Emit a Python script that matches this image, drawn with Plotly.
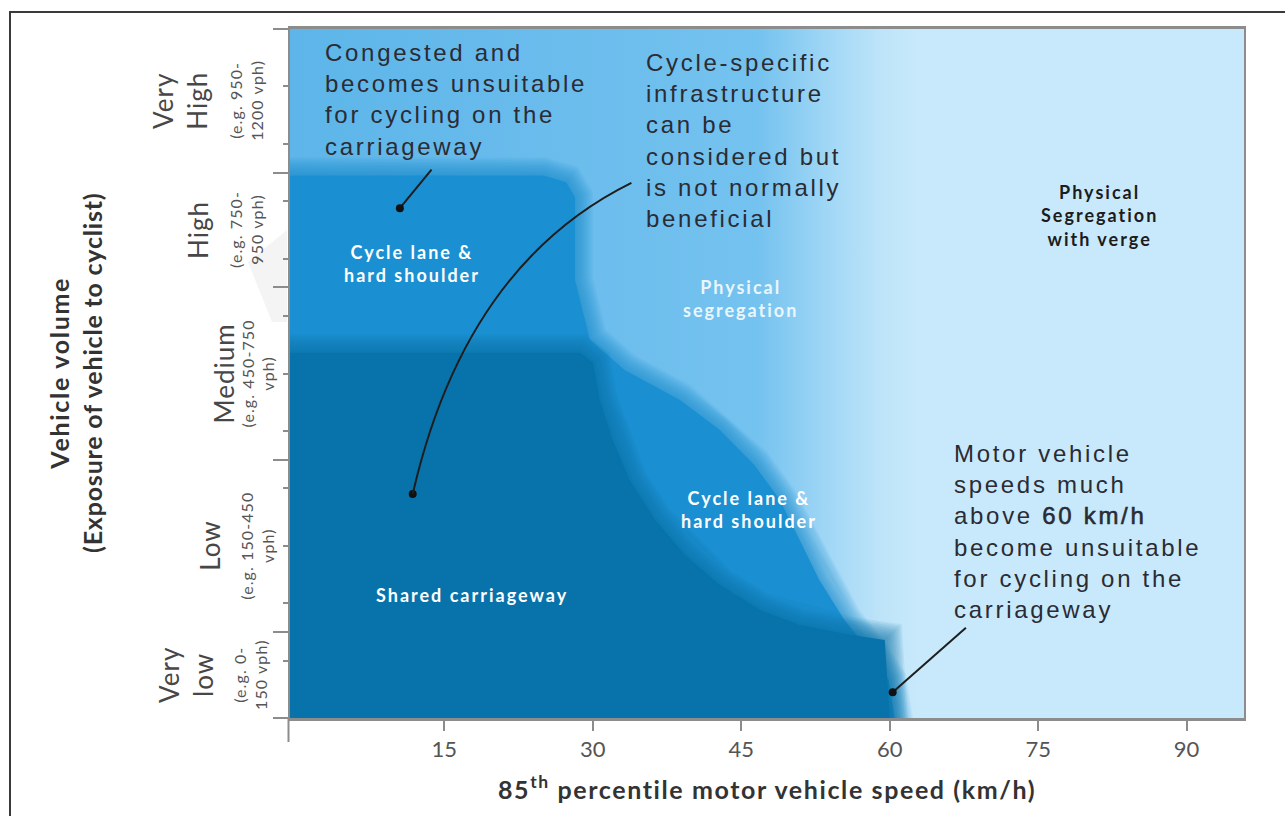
import plotly.graph_objects as go

# ---------------- data ----------------
SPEED_RANGE = [-0.6, 95.8]          # km/h (85th percentile speed)
VOLUME_RANGE = [0, 1200]            # vehicles per hour
speed_ticks = [15, 30, 45, 60, 75, 90]
volume_bounds = [0, 150, 450, 750, 950, 1200]
volume_minor = [100, 200, 300, 400, 500, 600, 700, 800, 900, 1000, 1100]
band_names = ["Very<br>low", "Low", "Medium", "High", "Very<br>High"]
band_examples = ["(e.g. 0-<br>150 vph)", "(e.g. 150-450<br>vph)", "(e.g. 450-750<br>vph)",
                 "(e.g. 750-<br>950 vph)", "(e.g. 950-<br>1200 vph)"]

# zone outline: cycle lane & hard shoulder (speed, volume)
lane_speed = [-0.6, -0.6, 25.0, 27.3, 28.2, 28.2, 29.7, 33.2, 38.8, 42.8, 46.3, 48.9, 50.9,
              52.9, 55.4, 57.9, 59.9, 60.5]
lane_volume = [0, 945, 945, 933, 907, 763, 659, 606, 554, 502, 441, 380, 310,
               240, 171, 118, 66, 0]
# zone outline: shared carriageway
shared_speed = [-0.6, -0.6, 28.7, 30.0, 30.7, 32.0, 33.7, 36.3, 39.3, 42.8, 46.9, 50.9,
                56.0, 59.5, 60.0]
shared_volume = [0, 636, 636, 619, 554, 484, 415, 345, 284, 232, 188, 162,
                 145, 136, 0]

# ---------------- styling ----------------
C_DARK = (8, 114, 170)
C_MED = (26, 143, 209)
TXT = "#2b2b33"
GRAY = "#8c8c8c"
LATO = "Lato, Calibri, sans-serif"
PLOT_L, PLOT_W, PLOT_B, PLOT_H = 290, 954, 718, 689

fig = go.Figure()

# background: physical segregation -> physical segregation with verge
fig.add_trace(go.Scatter(
    x=[SPEED_RANGE[0], SPEED_RANGE[1], SPEED_RANGE[1], SPEED_RANGE[0], SPEED_RANGE[0]],
    y=[VOLUME_RANGE[0], VOLUME_RANGE[0], VOLUME_RANGE[1], VOLUME_RANGE[1], VOLUME_RANGE[0]],
    mode="lines", line=dict(width=0), fill="toself",
    fillgradient=dict(type="horizontal", start=0, stop=63,
                      colorscale=[[0, "#5db5e9"], [0.74, "#74c2ef"], [0.86, "#a3d8f6"],
                                  [0.94, "#bee4f9"], [1, "#c8e9fb"]]),
    hoverinfo="skip", showlegend=False))


def add_zone(xs, ys, rgb, widths=range(3, 39, 3), alpha=0.08):
    xc = list(xs) + [xs[0]]
    yc = list(ys) + [ys[0]]
    r, g, b = rgb
    for w in widths:
        fig.add_trace(go.Scatter(x=xc, y=yc, mode="lines",
                                 line=dict(color=f"rgba({r},{g},{b},{alpha})", width=w),
                                 hoverinfo="skip", showlegend=False))
    fig.add_trace(go.Scatter(x=xc, y=yc, mode="lines", line=dict(width=0), fill="toself",
                             fillcolor=f"rgb({r},{g},{b})", hoverinfo="skip", showlegend=False))


add_zone(lane_speed, lane_volume, C_MED)
add_zone(shared_speed, shared_volume, C_DARK)

# pointers
fig.add_trace(go.Scatter(x=[13.7, 10.5], y=[955, 888], mode="lines",
                         line=dict(color="#1d1d1d", width=2), hoverinfo="skip", showlegend=False))
fig.add_trace(go.Scatter(x=[67.7, 60.3], y=[157, 45], mode="lines",
                         line=dict(color="#1d1d1d", width=2), hoverinfo="skip", showlegend=False))
fig.add_shape(type="path", xref="x", yref="y",
              path="M 33.9,932 Q 17.1,789 11.8,390",
              line=dict(color="#1d1d1d", width=2))
fig.add_trace(go.Scatter(x=[10.5, 11.8, 60.3], y=[888, 390, 45], mode="markers",
                         marker=dict(color="#111111", size=8), hoverinfo="skip", showlegend=False))


def spaced(lines, ls):
    return "<br>".join(f"<span style='letter-spacing:{ls}px'>{l}</span>" for l in lines)


note_font = dict(family="Liberation Sans, Arial, sans-serif", size=24, color=TXT)
fig.add_annotation(x=2.7, y=1077, xref="x", yref="y", xanchor="left", yanchor="middle",
                   align="left", showarrow=False, font=note_font,
                   text=spaced(["Congested and", "becomes unsuitable", "for cycling on the",
                                "carriageway"], 2.7))
fig.add_annotation(x=35.2, y=1006, xref="x", yref="y", xanchor="left", yanchor="middle",
                   align="left", showarrow=False, font=note_font,
                   text=spaced(["Cycle-specific", "infrastructure", "can be", "considered but",
                                "is not normally", "beneficial"], 2.7))
fig.add_annotation(x=66.3, y=324, xref="x", yref="y", xanchor="left", yanchor="middle",
                   align="left", showarrow=False, font=note_font,
                   text=spaced(["Motor vehicle", "speeds much",
                                "above <span style='stroke:#2b2b33;stroke-width:0.6px'>60 km/h</span>",
                                "become unsuitable", "for cycling on the", "carriageway"], 2.7))

for x, y, t, col in [
    (11.7, 792, "Cycle lane &<br>hard shoulder", "#ffffff"),
    (44.9, 730, "Physical<br>segregation", "#eaf6fd"),
    (45.8, 364, "Cycle lane &<br>hard shoulder", "#ffffff"),
    (17.8, 214, "Shared carriageway", "#ffffff"),
    (81.2, 876, "Physical<br>Segregation<br>with verge", "#1c1c1c"),
]:
    fig.add_annotation(x=x, y=y, xref="x", yref="y", text=spaced(t.split("<br>"), 2.0),
                       showarrow=False, align="center", xanchor="center", yanchor="middle",
                       font=dict(family=LATO, size=18, color=col, weight="bold"))

# y category labels (rotated): main words and example ranges
main_px = [186, 210, 223, 198, 180]
sub_px = [250, 257, 257, 246, 246]
for i, (nm, ex) in enumerate(zip(band_names, band_examples)):
    ymid = (volume_bounds[i] + volume_bounds[i + 1]) / 2
    fig.add_annotation(x=(main_px[i] - PLOT_L) / PLOT_W, y=ymid, xref="paper", yref="y",
                       text=spaced(nm.split("<br>"), 1.0), textangle=-90, showarrow=False,
                       font=dict(family=LATO, size=26, color="#474747"),
                       align="center", xanchor="center", yanchor="middle")
    fig.add_annotation(x=(sub_px[i] - PLOT_L) / PLOT_W, y=ymid, xref="paper", yref="y",
                       text=spaced(ex.split("<br>"), 1.1), textangle=-90, showarrow=False,
                       font=dict(family=LATO, size=16, color="#555555"),
                       align="center", xanchor="center", yanchor="middle")

# axis titles
fig.add_annotation(x=(75.5 - PLOT_L) / PLOT_W, y=0.5, xref="paper", yref="paper",
                   text="<span style='letter-spacing:1.7px'>Vehicle volume</span><br>"
                        "<span style='letter-spacing:0.8px'>(Exposure of vehicle to cyclist)</span>",
                   textangle=-90, showarrow=False, align="center", xanchor="center",
                   yanchor="middle",
                   font=dict(family=LATO, size=25, color="#333333", weight="bold"))
fig.add_annotation(x=0.5, y=(PLOT_B - 787) / PLOT_H, xref="paper", yref="paper",
                   text="<span style='letter-spacing:1.6px'>85<sup>th</sup> percentile motor "
                        "vehicle speed (km/h)</span>",
                   showarrow=False, xanchor="center", yanchor="middle",
                   font=dict(family=LATO, size=25, color="#333333", weight="bold"))

# faint grey shadow left of the axis
fig.add_shape(type="path", xref="paper", yref="paper", layer="below",
              path=(f"M {(287 - PLOT_L) / PLOT_W},{(PLOT_B - 230) / PLOT_H} "
                    f"L {(248 - PLOT_L) / PLOT_W},{(PLOT_B - 262) / PLOT_H} "
                    f"L {(272 - PLOT_L) / PLOT_W},{(PLOT_B - 322) / PLOT_H} "
                    f"L {(287 - PLOT_L) / PLOT_W},{(PLOT_B - 322) / PLOT_H} Z"),
              fillcolor="#f4f4f4", line=dict(width=0))

# y axis line extends below the x axis
fig.add_shape(type="line", xref="paper", yref="paper", x0=-1.5 / PLOT_W, x1=-1.5 / PLOT_W,
              y0=0, y1=-24 / PLOT_H, line=dict(color=GRAY, width=2))

# outer frame
fig.add_shape(type="rect", xref="paper", yref="paper",
              x0=(10 - PLOT_L) / PLOT_W, x1=(1290 - PLOT_L) / PLOT_W,
              y0=(PLOT_B - 840) / PLOT_H, y1=(PLOT_B - 12) / PLOT_H,
              line=dict(color="#3a3a3a", width=2), layer="above")

fig.update_layout(
    width=1285, height=816,
    margin=dict(l=290, r=41, t=29, b=98),
    paper_bgcolor="white", plot_bgcolor="white",
    showlegend=False,
    xaxis=dict(range=SPEED_RANGE, tickvals=speed_ticks, ticks="outside", ticklen=10,
               tickwidth=2, tickcolor=GRAY, showgrid=False, zeroline=False,
               showline=True, linecolor=GRAY, linewidth=3, mirror=True,
               tickfont=dict(family=LATO, size=22, color="#555555")),
    yaxis=dict(range=VOLUME_RANGE, tickvals=volume_bounds, ticks="outside", ticklen=15,
               tickwidth=2, tickcolor=GRAY, showticklabels=False, showgrid=False,
               zeroline=False, showline=True, linecolor=GRAY, linewidth=2, mirror=True,
               minor=dict(tickvals=volume_minor, ticks="outside", ticklen=5, tickwidth=2,
                          tickcolor=GRAY)),
)

fig.write_html("out.html", config={"displayModeBar": False},
               post_script="document.body.style.margin='0';")
